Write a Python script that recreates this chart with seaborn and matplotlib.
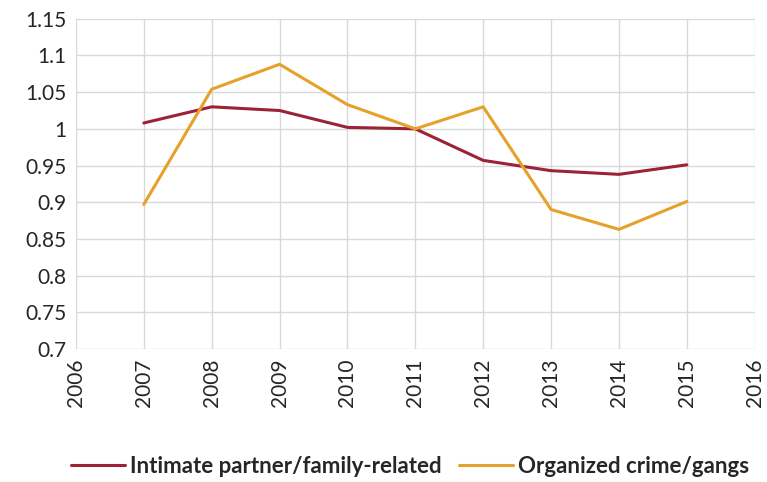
import matplotlib
matplotlib.use("Agg")
import matplotlib.pyplot as plt
import seaborn as sns
import pandas as pd

years = [2007, 2008, 2009, 2010, 2011, 2012, 2013, 2014, 2015]
intimate = [1.008, 1.030, 1.025, 1.002, 1.000, 0.957, 0.943, 0.938, 0.951]
organized = [0.897, 1.054, 1.088, 1.033, 1.000, 1.030, 0.890, 0.863, 0.901]
series_names = ["Intimate partner/family-related", "Organized crime/gangs"]
y_ticks = [0.7, 0.75, 0.8, 0.85, 0.9, 0.95, 1, 1.05, 1.1, 1.15]
x_ticks = list(range(2006, 2017))

df = pd.DataFrame({"year": years * 2,
                   "value": intimate + organized,
                   "series": [series_names[0]] * len(years) + [series_names[1]] * len(years)})

sns.set_style("white")
plt.rcParams['font.family'] = ['Lato', 'DejaVu Sans']

fig = plt.figure(figsize=(7.67, 4.82), dpi=100)
ax = fig.add_axes([0.099, 0.276, 0.885, 0.685])

sns.lineplot(data=df, x="year", y="value", hue="series",
             palette=["#9B2335", "#E6A12A"], linewidth=2.2, ax=ax)

ax.set_xlim(2006, 2016)
ax.set_ylim(0.7, 1.15)
ax.set_xticks(x_ticks)
ax.set_xticklabels([str(x) for x in x_ticks], rotation=90, fontsize=15)
ax.set_yticks(y_ticks)
ax.set_yticklabels([f"{v:g}" for v in y_ticks], fontsize=15)
ax.tick_params(length=0, pad=7)
ax.grid(True, color="#D9D9D9", linewidth=1)
for s in ax.spines.values():
    s.set_visible(False)
ax.set_xlabel("")
ax.set_ylabel("")

handles, labels = ax.get_legend_handles_labels()
ax.legend(handles, labels, loc="center", bbox_to_anchor=(0.535, 0.033),
          bbox_transform=fig.transFigure, ncol=2, frameon=False,
          prop={"weight": "bold", "size": 16}, handlelength=2.4,
          columnspacing=0.8, handletextpad=0.25)

fig.savefig("out.png", dpi=100)
